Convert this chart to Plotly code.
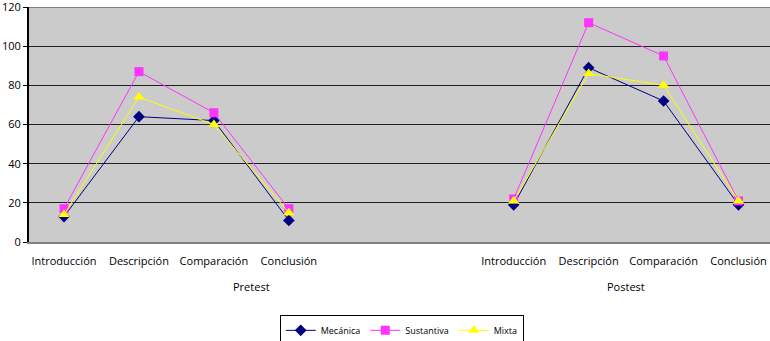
import plotly.graph_objects as go

categories = ["Introducción", "Descripción", "Comparación", "Conclusión"]
groups = ["Pretest", "Postest"]

mecanica_pre = [13, 64, 62, 11]
mecanica_post = [19, 89, 72, 19]
sustantiva_pre = [17, 87, 66, 17]
sustantiva_post = [22, 112, 95, 21]
mixta_pre = [14, 74, 60, 15]
mixta_post = [21, 86, 80, 21]

y_ticks = [0, 20, 40, 60, 80, 100, 120]

# category slot positions: each group occupies 6 slots in the source chart
GROUP_SLOTS = 6
pre_x = [i for i in range(len(categories))]
post_x = [GROUP_SLOTS + i for i in range(len(categories))]
tick_positions = pre_x + post_x
tick_labels = categories + categories

FONT = "Lucida Grande, Open Sans, DejaVu Sans, sans-serif"

series = [
    ("Mecánica", mecanica_pre, mecanica_post, "#000080", "diamond", 9),
    ("Sustantiva", sustantiva_pre, sustantiva_post, "#FF33FF", "square", 9),
    ("Mixta", mixta_pre, mixta_post, "#FFFF00", "triangle-up", 10),
]

fig = go.Figure()
for name, pre, post, color, symbol, size in series:
    fig.add_trace(go.Scatter(
        x=pre_x + [None] + post_x,
        y=pre + [None] + post,
        name=name,
        mode="lines+markers",
        connectgaps=False,
        line=dict(color=color, width=1),
        marker=dict(symbol=symbol, size=size, color=color, line=dict(width=0)),
    ))

fig.update_layout(
    width=770, height=341,
    margin=dict(l=29, r=0, t=7, b=99, autoexpand=False),
    paper_bgcolor="white",
    plot_bgcolor="#CBCBCB",
    font=dict(family=FONT, size=11, color="black"),
    showlegend=True,
    legend=dict(
        orientation="h",
        x=0.503, xanchor="center",
        y=-0.31, yanchor="top",
        bgcolor="white", bordercolor="black", borderwidth=1,
        font=dict(size=9, family=FONT),
        itemwidth=30,
        tracegroupgap=0,
    ),
)

fig.update_xaxes(
    range=[-0.467, 9.42],
    tickmode="array",
    tickvals=tick_positions,
    ticktext=tick_labels,
    showgrid=False,
    zeroline=False,
    showline=True, linecolor="#808080", linewidth=2,
    ticks="",
    ticklabelstandoff=8,
    automargin=False,
    ticklabeloverflow="allow",
    tickfont=dict(size=11),
)
fig.update_yaxes(
    range=[0, 120],
    tickmode="array",
    tickvals=y_ticks,
    showgrid=True, gridcolor="#202020", gridwidth=1,
    zeroline=False,
    showline=True, linecolor="black", linewidth=2,
    ticks="outside", ticklen=4, tickcolor="black",
    automargin=False,
    ticklabeloverflow="allow",
    tickfont=dict(size=11),
)

# top border of plot area
fig.add_shape(type="line", xref="paper", yref="y", x0=0, x1=1, y0=120, y1=120,
              line=dict(color="#808080", width=2))

# group labels centred over each group's slots
group_centers = [(GROUP_SLOTS - 1) / 2, (GROUP_SLOTS + post_x[-1]) / 2]
for g, cx in zip(groups, group_centers):
    fig.add_annotation(x=cx, xref="x", y=-0.19, yref="paper", text=g,
                       showarrow=False, yanchor="middle", font=dict(size=11))

# remove the browser's default page margin so the figure fills the window exactly
fig.write_html(
    "out.html",
    config={"displayModeBar": False},
    post_script="document.body.style.margin='0';document.body.style.overflow='hidden';",
)
